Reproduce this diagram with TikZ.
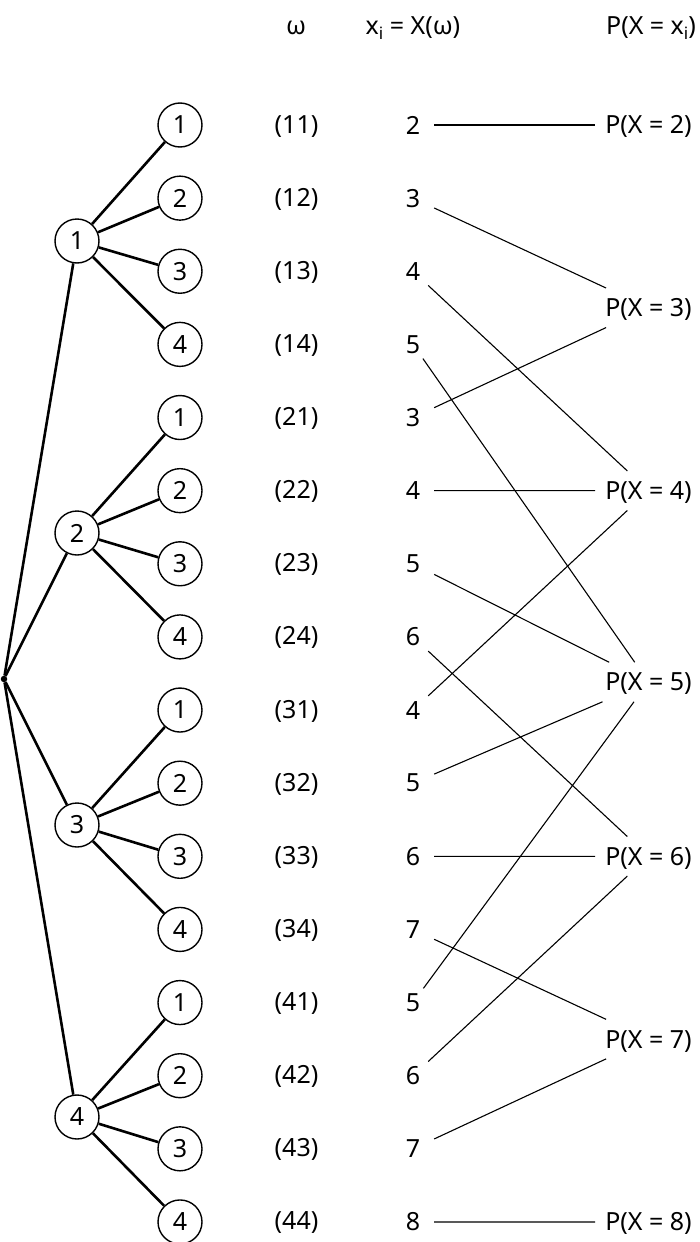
\documentclass[tikz,border=0pt]{standalone}
\usepackage{fontspec}
\setmainfont{Noto Sans}
\newcommand\isub{\raisebox{-0.22em}{\fontsize{17}{20}\selectfont i}}
\begin{document}
\begin{tikzpicture}[x=1pt,y=-1pt,
  every node/.style={font=\fontsize{25}{30}\selectfont},
  tnode/.style={circle,draw,line width=1.4pt,minimum size=44pt,inner sep=0pt},
  tedge/.style={line width=2.6pt},
  lab/.style={anchor=base,inner sep=0pt},
  val/.style={inner sep=0pt,minimum width=42pt,minimum height=28pt},
  pnode/.style={inner xsep=10pt,inner ysep=6pt,text height=22.5pt,text depth=4.65pt},
  link/.style={line width=1.1pt}]
\useasboundingbox (0,0) rectangle (700,1242);
% header
\node[lab] (h1) at (296,34) {ω};
\node[lab] (h2) at (413,34) {x\isub{} = X(ω)};
\node[lab] (h3) at (651,34) {P(X = x\isub)};
% root
\node[circle,fill,inner sep=0pt,minimum size=6.5pt] (r) at (4,679) {};
% middle nodes
\foreach \i in {1,...,4}{
  \node[tnode] (m\i) at (77,{241+292*(\i-1)}) {\i};
  \draw[tedge] (r) -- (m\i);
}
% rows
\foreach \k/\a/\b/\v in {0/1/1/2,1/1/2/3,2/1/3/4,3/1/4/5,
                         4/2/1/3,5/2/2/4,6/2/3/5,7/2/4/6,
                         8/3/1/4,9/3/2/5,10/3/3/6,11/3/4/7,
                         12/4/1/5,13/4/2/6,14/4/3/7,15/4/4/8}{
  \pgfmathsetmacro\yy{125+73.13*\k}
  \node[tnode] (l\a\b) at (180,\yy) {\b};
  \draw[tedge] (m\a) -- (l\a\b);
  \node[lab] (w\a\b) at (296.5,\yy+8) {(\a\b)};
  \node[val] (v\a\b) at (413,\yy) {\v};
}
% probability nodes
\node[pnode] (p2) at (648.5,125) {P(X = 2)};
\node[pnode] (p3) at (648.5,307.8) {P(X = 3)};
\node[pnode] (p4) at (648.5,490.7) {P(X = 4)};
\node[pnode] (p5) at (648.5,682) {P(X = 5)};
\node[pnode] (p6) at (648.5,856.3) {P(X = 6)};
\node[pnode] (p7) at (648.5,1039.1) {P(X = 7)};
\node[pnode] (p8) at (648.5,1222) {P(X = 8)};
% links
\foreach \s/\t in {11/2,12/3,13/4,14/5,21/3,22/4,23/5,24/6,
                   31/4,32/5,33/6,34/7,41/5,42/6,43/7,44/8}{
  \draw[link] (v\s) -- (p\t);
}
\end{tikzpicture}
\end{document}
